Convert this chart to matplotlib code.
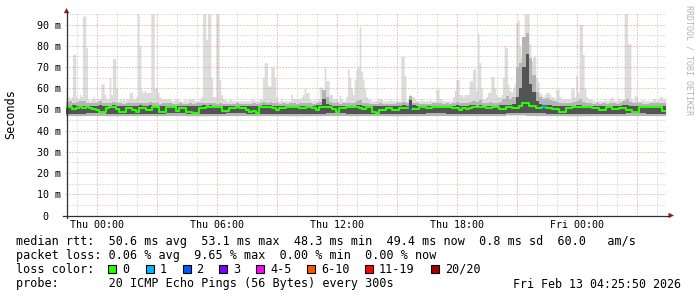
import numpy as np
import matplotlib
matplotlib.use("Agg")
import matplotlib.pyplot as plt
import matplotlib.dates as mdates
from matplotlib.patches import Rectangle, Polygon
from matplotlib.lines import Line2D
from matplotlib.ticker import MultipleLocator, FuncFormatter

# ---------------- data ----------------
series_start = "2026-02-11T22:25"          # first RRD bucket
view_start = "2026-02-11T22:25:50"
view_end = "2026-02-13T04:25:50"

# max ping per 5 minutes (ms), one row = one hour
ping_max = [
    60, 56, 55, 56, 76, 76, 56, 55, 57, 56, 94, 94,
    79, 55, 54, 55, 56, 55, 54, 55, 55, 62, 62, 57,
    55, 55, 65, 57, 74, 74, 60, 54, 55, 54, 55, 54,
    55, 55, 58, 58, 55, 55, 56, 95, 80, 59, 58, 59,
    58, 58, 58, 95, 95, 60, 60, 58, 56, 55, 55, 55,
    55, 55, 55, 54, 54, 55, 55, 55, 54, 54, 54, 55,
    54, 55, 55, 55, 55, 54, 54, 54, 55, 56, 95, 95,
    83, 95, 95, 65, 56, 56, 95, 95, 64, 57, 55, 55,
    54, 54, 55, 54, 54, 54, 54, 54, 54, 54, 54, 54,
    54, 54, 54, 55, 55, 54, 54, 54, 55, 55, 65, 72,
    72, 61, 61, 70, 70, 65, 56, 54, 54, 55, 54, 54,
    54, 54, 54, 57, 55, 55, 55, 55, 55, 56, 57, 60,
    58, 58, 55, 54, 54, 55, 54, 55, 60.5, 60.5, 57, 70,
    63.5, 63.5, 57, 57, 55, 55, 55, 54, 56.5, 55, 54, 54,
    56, 69, 65, 60, 57, 64, 69, 70, 89, 68, 64, 60,
    56, 55, 55, 54, 54, 54, 54, 55, 55, 55, 54, 54,
    54, 54, 55, 54, 54, 54, 54, 54, 54, 75, 75, 66,
    54, 55, 57, 56, 56, 55, 54, 54, 54, 55, 54, 54,
    54, 54, 55, 54, 54, 54, 59.5, 59.5, 55, 55, 54, 54,
    54, 54, 54, 54, 56, 59, 64, 64, 57, 57, 56, 57,
    57, 57, 63.5, 63.5, 69, 69, 59, 86, 72, 60, 55, 55,
    56, 58, 58, 65.5, 65.5, 60, 57, 56, 56, 57, 65, 80,
    79, 62, 59, 58, 60, 62, 91, 92, 80, 75, 75, 95,
    95, 95, 81, 73, 75, 75, 65, 63, 58, 57, 56, 57,
    58, 58, 57, 56, 56, 55, 59.5, 59.5, 56, 55, 55, 55,
    55, 55, 55, 60, 60, 56, 66, 58, 90, 90, 76, 60,
    56, 55, 55, 55, 54, 54, 54, 54, 54, 54, 54, 55,
    54, 54, 55, 56, 55, 54, 54, 55, 55, 54, 55, 95,
    95, 81, 81, 55, 54, 56.5, 56, 54, 54, 54.5, 54.5, 54,
    54, 54, 54, 54, 55, 55, 54, 55, 56, 56, 55, 55,
]

# upper smoke levels per 10 minutes (ms)
ping_p90 = [
    53.5, 53.8, 53.2, 53.6, 53.8, 53.9,
    53.0, 53.0, 52.8, 53.0, 54.0, 53.2,
    52.8, 53.0, 53.5, 53.0, 52.8, 52.7,
    52.8, 53.0, 52.8, 53.0, 53.2, 52.8,
    53.0, 53.5, 53.0, 52.8, 52.7, 52.9,
    52.8, 52.9, 52.7, 52.6, 52.8, 52.7,
    52.6, 52.8, 52.7, 52.8, 52.9, 53.2,
    53.0, 53.2, 52.8, 52.7, 52.8, 52.7,
    52.6, 52.7, 52.6, 52.8, 52.7, 52.6,
    52.7, 52.6, 52.8, 52.7, 52.9, 53.5,
    53.2, 53.4, 52.9, 52.8, 52.7, 52.8,
    52.7, 52.9, 52.8, 52.7, 52.9, 53.0,
    53.0, 52.8, 52.7, 52.9, 53.5, 59.0,
    56.0, 53.5, 52.9, 52.8, 52.7, 52.8,
    53.0, 53.2, 53.0, 54.0, 54.5, 53.0,
    52.8, 52.7, 52.6, 52.7, 52.8, 52.7,
    52.6, 52.7, 52.6, 52.8, 53.0, 53.5,
    53.0, 56.5, 53.0, 52.8, 52.7, 52.6,
    52.7, 52.6, 52.8, 53.0, 52.8, 52.7,
    52.8, 52.7, 53.2, 53.5, 53.2, 53.0,
    53.2, 53.5, 54.0, 53.6, 54.5, 53.2,
    53.0, 53.5, 53.2, 53.0, 53.4, 55.0,
    56.5, 55.0, 56.0, 70.0, 72.0, 84.0,
    86.0, 74.0, 66.0, 58.0, 56.0, 55.0,
    55.5, 54.5, 54.0, 53.4, 53.0, 52.8,
    52.8, 53.2, 53.5, 54.0, 55.0, 53.4,
    53.0, 52.8, 52.7, 52.8, 52.7, 52.8,
    52.7, 52.8, 52.9, 52.7, 52.8, 54.0,
    55.0, 53.5, 52.9, 52.8, 52.8, 52.7,
    52.7, 52.8, 52.9, 52.8, 52.9, 52.8,
]

ping_p75 = [
    51.8, 51.7, 51.9, 51.8, 51.7, 51.8,
    51.7, 51.8, 51.8, 51.7, 51.9, 51.8,
    51.8, 51.7, 51.9, 51.8, 51.7, 51.7,
    51.8, 51.8, 51.7, 51.8, 51.9, 51.7,
    51.8, 51.9, 51.8, 51.7, 51.7, 51.8,
    51.7, 51.8, 51.8, 51.7, 51.8, 51.7,
    51.7, 51.8, 51.7, 51.8, 51.8, 51.9,
    51.8, 51.9, 51.7, 51.7, 51.8, 51.7,
    51.7, 51.8, 51.7, 51.8, 51.7, 51.7,
    51.8, 51.7, 51.8, 51.7, 51.8, 51.9,
    51.9, 51.9, 51.8, 51.7, 51.7, 51.8,
    51.8, 51.8, 51.8, 51.7, 51.8, 51.8,
    51.8, 51.7, 51.8, 51.9, 52.2, 55.0,
    52.5, 52.0, 51.8, 51.7, 51.8, 51.7,
    51.8, 51.8, 51.8, 51.9, 52.0, 51.8,
    51.8, 51.7, 51.7, 51.7, 51.8, 51.7,
    51.7, 51.7, 51.7, 51.8, 51.8, 51.9,
    51.8, 54.5, 51.9, 51.7, 51.8, 51.7,
    51.7, 51.7, 51.8, 51.8, 51.8, 51.7,
    51.8, 51.7, 51.8, 51.9, 51.8, 51.8,
    51.8, 51.9, 51.9, 51.8, 51.9, 51.8,
    51.8, 51.8, 51.8, 51.8, 51.9, 52.0,
    52.0, 51.9, 52.5, 56.0, 60.0, 70.0,
    76.0, 62.0, 58.0, 54.0, 52.5, 52.0,
    52.0, 51.9, 51.8, 51.8, 51.7, 51.6,
    51.7, 51.8, 51.8, 51.9, 52.0, 51.8,
    51.8, 51.8, 51.7, 51.7, 51.7, 51.7,
    51.7, 51.7, 51.8, 51.7, 51.8, 51.9,
    51.9, 51.8, 51.7, 51.7, 51.8, 51.8,
    51.8, 51.8, 51.8, 51.7, 51.8, 51.7,
]

# median rtt per 10 minutes (ms)
median_rtt = [
    51.0, 51.0, 50.2, 50.8, 51.0, 50.8,
    51.0, 50.8, 50.4, 49.8, 49.0, 49.0,
    50.8, 51.0, 51.0, 50.0, 49.0, 48.8,
    50.5, 50.5, 49.5, 48.6, 50.5, 50.5,
    49.7, 49.7, 51.0, 51.0, 48.9, 48.9,
    51.0, 51.2, 51.2, 49.4, 50.5, 50.5,
    48.9, 48.9, 48.3, 48.5, 50.5, 50.5,
    51.2, 51.2, 51.2, 51.2, 51.2, 49.4,
    49.4, 50.5, 50.5, 51.0, 50.5, 50.5,
    49.7, 48.9, 49.4, 48.5, 51.0, 51.0,
    51.3, 51.3, 50.5, 49.7, 50.5, 50.5,
    51.3, 51.3, 51.0, 51.0, 50.5, 50.5,
    51.3, 51.3, 50.5, 49.8, 51.3, 51.3,
    51.0, 51.0, 50.0, 48.9, 50.5, 50.5,
    51.3, 51.3, 51.0, 51.0, 50.5, 50.2,
    51.0, 51.0, 48.9, 48.5, 49.7, 49.7,
    50.5, 50.5, 49.7, 49.7, 50.5, 50.5,
    50.5, 50.5, 50.0, 50.0, 51.0, 51.0,
    50.5, 50.5, 51.3, 51.3, 51.0, 51.0,
    51.3, 51.3, 50.5, 50.5, 49.7, 50.5,
    50.0, 50.5, 51.3, 51.3, 51.0, 51.0,
    50.5, 50.5, 51.0, 51.0, 50.0, 50.0,
    51.0, 51.0, 50.5, 50.5, 51.6, 52.9,
    53.1, 51.6, 51.6, 50.5, 50.5, 51.3,
    50.5, 50.5, 50.0, 50.0, 48.9, 48.9,
    50.5, 50.5, 51.3, 51.3, 51.0, 51.0,
    51.3, 51.3, 50.5, 50.5, 49.7, 49.7,
    51.0, 51.0, 50.0, 50.0, 50.5, 50.5,
    49.7, 49.7, 48.9, 48.9, 51.3, 51.3,
    51.3, 51.3, 51.0, 51.0, 51.0, 49.4,
]

# lower smoke levels per hour (ms)
ping_p25 = [48.0, 48.1, 47.9, 48.0, 48.0, 48.1, 47.9, 48.0, 48.1, 48.0,
            48.0, 47.9, 48.0, 48.1, 48.0, 48.0, 47.9, 48.0, 48.1, 48.0,
            48.0, 48.0, 48.2, 48.1, 48.0, 47.9, 48.0, 48.0, 48.1, 48.0]
ping_min = [47.0, 47.1, 46.9, 47.0, 47.0, 47.1, 46.9, 47.0, 47.1, 47.0,
            47.0, 46.9, 47.0, 47.1, 47.0, 47.0, 46.9, 47.0, 47.1, 47.0,
            47.0, 47.0, 47.2, 47.1, 47.0, 46.9, 47.0, 47.0, 47.1, 47.0]

# buckets with lost pings
loss_times = ["2026-02-12T15:35", "2026-02-12T22:15"]
loss_counts = [2, 1]

loss_labels = ["0", "1", "2", "3", "4-5", "6-10", "11-19", "20/20"]
loss_upper = [0, 1, 2, 3, 5, 10, 19, 20]
loss_colors = ["#26ff00", "#00b8ff", "#0059ff", "#7e00ff",
               "#ff00ff", "#ff5500", "#ff0000", "#a10000"]

ytick_values = [0, 10, 20, 30, 40, 50, 60, 70, 80, 90]
ytick_labels = ["0  ", "10 m", "20 m", "30 m", "40 m", "50 m",
                "60 m", "70 m", "80 m", "90 m"]
xtick_times = ["2026-02-12T00:00", "2026-02-12T06:00", "2026-02-12T12:00",
               "2026-02-12T18:00", "2026-02-13T00:00"]
xtick_labels = ["Thu 00:00", "Thu 06:00", "Thu 12:00", "Thu 18:00", "Fri 00:00"]

legend_rtt = "median rtt:  50.6 ms avg  53.1 ms max  48.3 ms min  49.4 ms now  0.8 ms sd  60.0   am/s"
legend_loss = "packet loss: 0.06 % avg  9.65 % max  0.00 % min  0.00 % now"
legend_probe = "probe:       20 ICMP Echo Pings (56 Bytes) every 300s"
stamp = "Fri Feb 13 04:25:50 2026"
watermark = "RRDTOOL / TOBI OETIKER"

# ---------------- figure ----------------
plt.rcParams["font.family"] = ["DejaVu Sans Mono"]
W, H, DPI = 697, 297, 100
fig = plt.figure(figsize=(W / DPI, H / DPI), dpi=DPI)
fig.patch.set_facecolor("white")


def fx(px):
    return px / W


def fy(py):
    return 1 - py / H


AX_L, AX_R, AX_T, AX_B = 66.1, 666.1, 13.9, 215.5
ax = fig.add_axes([fx(AX_L), fy(AX_B), (AX_R - AX_L) / W, (AX_B - AX_T) / H])
ax.set_facecolor("white")

t0 = np.datetime64(series_start)
e5 = mdates.date2num(t0 + np.arange(len(ping_max) + 1) * np.timedelta64(5, "m"))
e10 = mdates.date2num(t0 + np.arange(len(median_rtt) + 1) * np.timedelta64(10, "m"))

pmax = np.asarray(ping_max, float)
p90 = np.asarray(ping_p90, float)
p75 = np.asarray(ping_p75, float)
med = np.asarray(median_rtt, float)
p25_10 = np.repeat(ping_p25, 6)
min_10 = np.repeat(ping_min, 6)
min_5 = np.repeat(ping_min, 12)


def step_fill(edges, lo, hi, color, z):
    lo = np.append(lo, lo[-1])
    hi = np.append(hi, hi[-1])
    ax.fill_between(edges, lo, hi, step="post", color=color, lw=0,
                    zorder=z, antialiased=False)


step_fill(e5, min_5, pmax, "#dcdcdc", 1)
step_fill(e10, min_10, p90, "#b4b4b4", 3)
step_fill(e10, p25_10, p75, "#545454", 4)

ax.step(e10, np.append(med, med[-1]), where="post", color=loss_colors[0],
        lw=1.5, zorder=6)
for lt, lc in zip(loss_times, loss_counts):
    k = int((np.datetime64(lt) - t0) / np.timedelta64(10, "m"))
    ci = next(i for i, u in enumerate(loss_upper) if lc <= u)
    ax.plot([e10[k], e10[k + 1]], [med[k], med[k]], color=loss_colors[ci],
            lw=1.5, zorder=7, solid_capstyle="butt")

ax.set_xlim(mdates.date2num(np.datetime64(view_start)),
            mdates.date2num(np.datetime64(view_end)))
ax.set_ylim(0, 95)

# grid
ax.xaxis.set_major_locator(mdates.HourLocator(byhour=range(0, 24, 3)))
ax.xaxis.set_minor_locator(mdates.HourLocator())
ax.yaxis.set_major_locator(MultipleLocator(10))
ax.yaxis.set_minor_locator(MultipleLocator(5))
lab_nums = [mdates.date2num(np.datetime64(t)) for t in xtick_times]


def xfmt(v, pos):
    for n, s in zip(lab_nums, xtick_labels):
        if abs(v - n) < 1e-4:
            return s
    return ""


ax.xaxis.set_major_formatter(FuncFormatter(xfmt))
ax.set_yticks(ytick_values, ytick_labels)
ax.grid(which="minor", color="#c4c4c4", lw=0.72, ls=(0, (1, 2)), zorder=2)
ax.grid(which="major", color="#e49090", lw=0.72, ls=(0, (1, 2)), zorder=2)
ax.set_axisbelow(False)
ax.tick_params(which="both", length=0)
ax.tick_params(axis="y", pad=4.0, labelsize=7.2)
ax.tick_params(axis="x", pad=3.0, labelsize=7.2)
for s in ax.spines.values():
    s.set_visible(False)

# axis lines + arrows in pixel coordinates
def pline(x0, y0, x1, y1, **kw):
    fig.add_artist(Line2D([fx(x0), fx(x1)], [fy(y0), fy(y1)],
                          transform=fig.transFigure, **kw))


pline(66.5, 218, 66.5, 12, color="#303030", lw=0.9)
pline(63, 215.5, 669, 215.5, color="#303030", lw=0.9)
arrow_col = "#9a1818"
fig.add_artist(Polygon([[fx(63.8), fy(13.2)], [fx(69.2), fy(13.2)], [fx(66.5), fy(8.0)]],
                       closed=True, transform=fig.transFigure, color=arrow_col, lw=0))
fig.add_artist(Polygon([[fx(668.5), fy(212.8)], [fx(668.5), fy(218.2)], [fx(674), fy(215.5)]],
                       closed=True, transform=fig.transFigure, color=arrow_col, lw=0))

# texts
FS = 8.5
fig.text(fx(10.5), fy(114), "Seconds", rotation=90, ha="center", va="center", fontsize=FS)
fig.text(fx(688.5), fy(60), watermark, rotation=270, ha="center", va="center",
         fontsize=6.0, color="#b4b4b4")
fig.text(fx(16), fy(241), legend_rtt, ha="left", va="center", fontsize=FS)
fig.text(fx(16), fy(255.5), legend_loss, ha="left", va="center", fontsize=FS)
fig.text(fx(16), fy(269.5), "loss color:", ha="left", va="center", fontsize=FS)
fig.text(fx(16), fy(284), legend_probe, ha="left", va="center", fontsize=FS)
fig.text(fx(513), fy(284), stamp, ha="left", va="center", fontsize=8.35)

box_x = [108, 145.5, 182.5, 219, 256, 307, 365, 431]
for bx, col, lab in zip(box_x, loss_colors, loss_labels):
    fig.add_artist(Rectangle((fx(bx), fy(272.5)), 8 / W, 8 / H, transform=fig.transFigure,
                             facecolor=col, edgecolor="black", lw=0.8))
    fig.text(fx(bx + 14), fy(269.5), lab, ha="left", va="center", fontsize=FS)

fig.savefig("out.png", dpi=DPI, facecolor="white")
